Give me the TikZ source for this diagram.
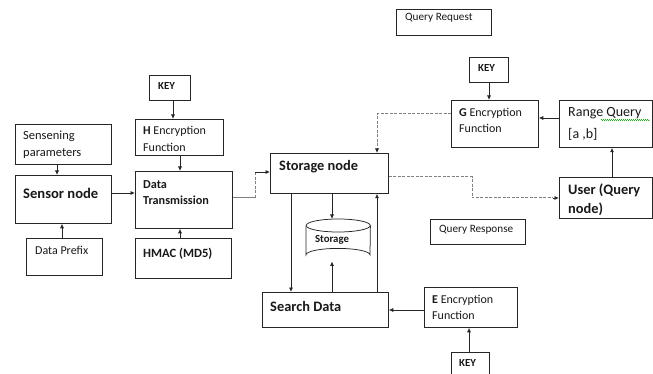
\documentclass[tikz,border=0pt]{standalone}
\usepackage{fontspec}
\setmainfont{Carlito}
\usetikzlibrary{arrows.meta,calc,decorations.pathmorphing}
\newcommand\mkbox[5]{\node[box, minimum width={#4-#2}, minimum height={#5-#3}] (#1) at (#2,#3) {};}
\begin{document}
\begin{tikzpicture}[x=1pt,y=-1pt,
  box/.style={draw=black!85, line width=0.75pt, anchor=north west, inner sep=0pt, fill=white},
  txt/.style={inner sep=0pt, anchor=west, align=left, text=black!90},
  arr/.style={-{Latex[length=4.5pt,width=4pt]}, line width=0.75pt, draw=black!85},
  gline/.style={draw=gray, line width=1pt, dash pattern=on 3pt off 1.5pt},
  gsolid/.style={draw=gray, line width=1pt}]
\useasboundingbox (0,0) rectangle (653,374);
% boxes
\mkbox{sp}{15}{124}{111}{164}
\mkbox{sn}{15}{175}{111}{223}
\mkbox{dp}{26}{238}{102}{275}
\mkbox{kone}{149}{75}{190}{100}
\mkbox{hf}{135}{119}{223}{155}
\mkbox{dt}{135}{171}{232}{228}
\mkbox{hm}{135}{238}{231}{278}
\mkbox{qreq}{396}{9}{491}{35}
\mkbox{ktwo}{469}{57}{508}{82}
\mkbox{gf}{451}{100}{538}{147}
\mkbox{rq}{559}{100}{652}{147}
\mkbox{st}{270}{153}{388}{193}
\mkbox{us}{559}{177}{652}{218}
\mkbox{qres}{430}{219}{525}{244}
\mkbox{sd}{262}{292}{388}{327}
\mkbox{ef}{424}{287}{517}{327}
\mkbox{kthree}{451}{352}{489}{380}
\node[anchor=north west, inner sep=0pt, minimum width=64pt, minimum height=42pt] (cyl) at (306,219) {};
% cylinder
\draw[line width=0.75pt, draw=black!85, fill=white]
  ($(cyl.north west)+(0,6.5)$) -- ($(cyl.south west)+(0,-6.5)$)
  arc[start angle=180, end angle=360, x radius=32, y radius=6.5]
  -- ($(cyl.north east)+(0,6.5)$);
\draw[line width=0.75pt, draw=black!85, fill=white] ($(cyl.north)+(0,6.5)$) ellipse[x radius=32, y radius=6.5];
% texts
\node[txt, font=\fontsize{12.5}{16.7}\selectfont] (tsp) at (23,144.5) {Sensening\\parameters};
\node[txt, font=\fontsize{14.6}{17}\selectfont\bfseries] (tsn) at (23,193) {Sensor node};
\node[txt, font=\fontsize{12}{14}\selectfont] (tdp) at (35,250) {Data Prefix};
\node[txt, font=\fontsize{10.8}{12}\selectfont\bfseries] (tk1) at (158,86) {KEY};
\node[txt, font=\fontsize{12}{16.3}\selectfont] (thf) at (143,139) {\textbf{H} Encryption\\Function};
\node[txt, font=\fontsize{12.2}{16.5}\selectfont\bfseries] (tdt) at (143,192.5) {Data\\Transmission};
\node[txt, font=\fontsize{12.6}{14}\selectfont\bfseries] (thm) at (143,254) {HMAC (MD5)};
\node[txt, font=\fontsize{11.2}{13}\selectfont] (tqreq) at (405,18) {Query Request};
\node[txt, font=\fontsize{10.8}{12}\selectfont\bfseries] (tk2) at (478,68) {KEY};
\node[txt, font=\fontsize{12}{16}\selectfont] (tgf) at (459,120) {\textbf{G} Encryption\\Function};
\node[txt, font=\fontsize{14}{22}\selectfont] (trq) at (568,124) {Range Query\\{[a ,b]}};
\node[txt, font=\fontsize{14.4}{17}\selectfont\bfseries] (tst) at (279,167) {Storage node};
\node[txt, font=\fontsize{14.4}{19.5}\selectfont\bfseries] (tus) at (568,199.5) {User (Query\\node)};
\node[txt, font=\fontsize{11.2}{13}\selectfont] (tqres) at (439,230) {Query Response};
\node[txt, anchor=center, font=\fontsize{10.8}{12}\selectfont\bfseries] (tcyl) at (332,240) {Storage};
\node[txt, font=\fontsize{14.4}{17}\selectfont\bfseries] (tsd) at (270,306) {Search Data};
\node[txt, font=\fontsize{12}{16.5}\selectfont] (tef) at (432,307.5) {\textbf{E} Encryption\\Function};
\node[txt, font=\fontsize{10.8}{12}\selectfont\bfseries] (tk3) at (459,363) {KEY};
% spell-check squiggle
\coordinate (sqa) at (601,120);
\coordinate (sqb) at (650,120);
\draw[green!60!black, line width=0.4pt, decorate, decoration={snake, amplitude=0.6pt, segment length=2pt}] (sqa) -- (sqb);
% solid connectors
\draw[arr] (sp.south -| 57,0) -- (sn.north -| 57,0);
\draw[arr] (dp.north -| 62,0) -- (sn.south -| 62,0);
\draw[arr] (sn.east |- 0,193) -- (dt.west |- 0,193);
\draw[arr] (kone.south -| 173,0) -- (hf.north -| 173,0);
\draw[arr] (hf.south -| 180,0) -- (dt.north -| 180,0);
\draw[arr] (hm.north -| 180,0) -- (dt.south -| 180,0);
\draw[arr] (st.south -| 332,0) -- (cyl.north -| 332,0);
\draw[arr] (st.south -| 291,0) -- (sd.north -| 291,0);
\draw[arr] (sd.north -| 332,0) -- (cyl.south -| 332,0);
\draw[arr] (sd.north -| 377,0) -- (st.south -| 377,0);
\draw[arr] (ef.west |- 0,310) -- (sd.east |- 0,310);
\draw[arr] (kthree.north -| 469,0) -- (ef.south -| 469,0);
\draw[arr] (ktwo.south -| 489,0) -- (gf.north -| 489,0);
\draw[arr] (rq.west |- 0,118) -- (gf.east |- 0,118);
\draw[arr] (us.north -| 612,0) -- (rq.south -| 612,0);
% data transmission to storage node
\coordinate (dta) at (255,198);
\coordinate (dtb) at (255,172);
\draw[gsolid] (dt.east |- dta) -- (dta);
\draw[gline] (dta) -- (dtb);
\draw[arr] (dtb) -- (st.west |- dtb);
% dashed query paths
\coordinate (ga) at (377,114);
\draw[gline] (gf.west |- ga) -- (ga) -- ($(ga |- st.north)+(0,-5)$);
\draw[arr] ($(ga |- st.north)+(0,-5)$) -- (ga |- st.north);
\coordinate (ua) at (472,177);
\coordinate (ub) at (472,198);
\draw[gline] (st.east |- ua) -- (ua) -- (ub) -- ($(us.west |- ub)+(-6,0)$);
\draw[arr] ($(us.west |- ub)+(-6,0)$) -- (us.west |- ub);
\end{tikzpicture}
\end{document}
